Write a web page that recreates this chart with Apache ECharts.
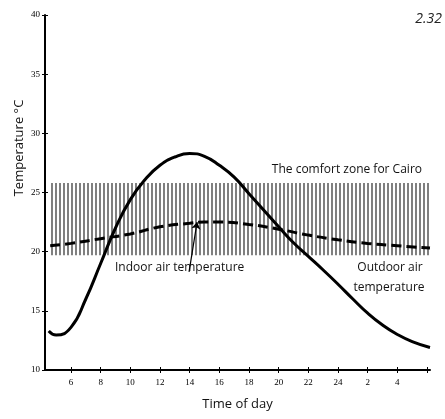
<!DOCTYPE html>
<html><head><meta charset="utf-8">
<script src="https://cdn.jsdelivr.net/npm/echarts@6/dist/echarts.min.js"></script>
<style>html,body{margin:0;padding:0;background:#fff}#c{width:445px;height:419px}</style>
</head><body><div id="c"></div>
<script>
// Hours are counted continuously: 26 = 2 h, 28 = 4 h next day
const outdoorHours = [4.5, 5, 6, 7, 8, 9, 10, 11, 12, 13, 14, 15, 16, 17, 18, 19, 20, 21, 22, 23, 24, 25, 26, 27, 28, 29, 30.2];
const outdoorTemps = [13.3, 12.95, 13.6, 16.0, 19.0, 22.0, 24.4, 26.1, 27.3, 28.0, 28.3, 28.05, 27.3, 26.3, 24.9, 23.5, 22.1, 20.75, 19.6, 18.45, 17.25, 16.0, 14.8, 13.8, 13.0, 12.4, 11.9];
const indoorHours = [4.6, 6, 8, 10, 12, 14, 15, 16, 18, 20, 22, 24, 26, 28, 30.2];
const indoorTemps = [20.5, 20.7, 21.1, 21.5, 22.1, 22.4, 22.5, 22.5, 22.3, 21.9, 21.4, 21.0, 20.7, 20.5, 20.3];
const comfortZone = [4.75, 30.2, 19.7, 25.8]; // start hour, end hour, low °C, high °C
const xTickValues = [6, 8, 10, 12, 14, 16, 18, 20, 22, 24, 26, 28, 30];
const xLabelValues = [6, 8, 10, 12, 14, 16, 18, 20, 22, 24, 26, 28];
const indoorArrow = [[13.96, 18.3], [14.5, 22.5]];

const chart = echarts.init(document.getElementById('c'));
const axisFont = {fontFamily: 'Liberation Serif', fontSize: 9, color: '#000'};
const sans = '"Open Sans", sans-serif';

chart.setOption({
  animation: false,
  grid: {left: 45, right: 15, top: 15, bottom: 49},
  xAxis: [{
    type: 'value', min: 4.25, max: 30.2,
    axisLine: {show: true, lineStyle: {color: '#000', width: 2}},
    axisTick: {show: true, customValues: xTickValues, length: 3, lineStyle: {color: '#000', width: 1}},
    axisLabel: {customValues: xLabelValues, margin: 8, formatter: v => String(v > 24 ? v - 24 : v), ...axisFont},
    splitLine: {show: false},
    name: 'Time of day', nameLocation: 'middle', nameGap: 28,
    nameTextStyle: {fontFamily: sans, fontSize: 13, color: '#111'}
  }, {
    type: 'value', min: 4.25, max: 30.2, position: 'bottom',
    axisLine: {show: false},
    axisTick: {show: true, inside: true, customValues: xTickValues, length: 3, lineStyle: {color: '#000', width: 1}},
    axisLabel: {show: false}, splitLine: {show: false}
  }],
  yAxis: [{
    type: 'value', min: 10, max: 40, interval: 5,
    axisLine: {show: true, lineStyle: {color: '#000', width: 2}},
    axisTick: {show: true, length: 3, lineStyle: {color: '#000', width: 1}},
    axisLabel: {margin: 5, ...axisFont},
    splitLine: {show: false}
  }, {
    type: 'value', min: 10, max: 40, interval: 5, position: 'left',
    axisLine: {show: false},
    axisTick: {show: true, inside: true, length: 3, lineStyle: {color: '#000', width: 1}},
    axisLabel: {show: false}, splitLine: {show: false}
  }],
  graphic: [
    {type: 'text', x: 19, y: 148, rotation: Math.PI / 2,
     style: {text: 'Temperature °C', font: '13px "Open Sans"', fill: '#111', textAlign: 'center', textVerticalAlign: 'middle'}},
    {type: 'text', x: 442, y: 19,
     style: {text: '2.32', font: 'italic 14px "Open Sans"', fill: '#222', textAlign: 'right', textVerticalAlign: 'middle'}},
    {type: 'text', x: 422, y: 170,
     style: {text: 'The comfort zone for Cairo', font: '12px "Open Sans"', fill: '#111', textAlign: 'right', textVerticalAlign: 'middle'}},
    {type: 'text', x: 115, y: 268,
     style: {text: 'Indoor air temperature', font: '12px "Open Sans"', fill: '#111', textAlign: 'left', textVerticalAlign: 'middle'}},
    {type: 'text', x: 390, y: 268,
     style: {text: 'Outdoor air', font: '12px "Open Sans"', fill: '#111', textAlign: 'center', textVerticalAlign: 'middle'}},
    {type: 'text', x: 389, y: 288,
     style: {text: 'temperature', font: '12px "Open Sans"', fill: '#111', textAlign: 'center', textVerticalAlign: 'middle'}}
  ],
  series: [
    {
      type: 'custom', silent: true, z: 1,
      data: [comfortZone],
      renderItem: (params, api) => {
        const p0 = api.coord([api.value(0), api.value(3)]);
        const p1 = api.coord([api.value(1), api.value(2)]);
        const children = [];
        for (let x = p0[0]; x <= p1[0]; x += 4) {
          const xx = Math.round(x);
          children.push({type: 'line', shape: {x1: xx, y1: p0[1], x2: xx, y2: p1[1]}, style: {stroke: '#2a2a2a', lineWidth: 1.2}});
        }
        return {type: 'group', children};
      }
    },
    {
      type: 'line', name: 'Outdoor', smooth: 0.5, showSymbol: false, z: 3,
      data: outdoorHours.map((h, i) => [h, outdoorTemps[i]]),
      lineStyle: {color: '#000', width: 3}
    },
    {
      type: 'line', name: 'Indoor', smooth: 0.5, showSymbol: false, z: 3,
      data: indoorHours.map((h, i) => [h, indoorTemps[i]]),
      lineStyle: {color: '#000', width: 3, type: [10, 5]},
      markLine: {
        silent: true, symbol: ['none', 'arrow'], symbolSize: 7,
        label: {show: false},
        lineStyle: {color: '#000', width: 1.2, type: 'solid'},
        data: [[{coord: indoorArrow[0]}, {coord: indoorArrow[1]}]]
      }
    }
  ]
});
</script></body></html>
